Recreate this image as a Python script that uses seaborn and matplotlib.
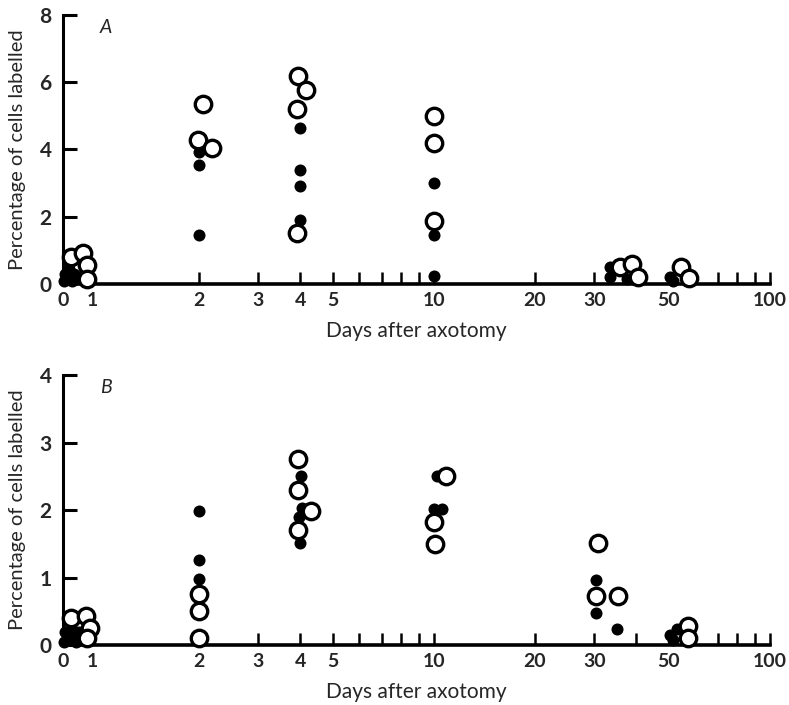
import numpy as np
import pandas as pd
import seaborn as sns
import matplotlib
matplotlib.use("Agg")
import matplotlib.pyplot as plt
from matplotlib.ticker import FixedLocator, NullFormatter

# ---------------- data ----------------
# Panel A
filled_A_days = [0.79, 0.80, 0.82, 0.82, 0.84, 0.85, 0.87,
                 2.0, 2.0, 2.0,
                 4.0, 4.0, 4.0, 4.0,
                 10.0, 10.0, 10.0,
                 33.4, 33.4, 37.5,
                 50.4, 51.5]
filled_A_pct = [0.10, 0.30, 0.20, 0.45, 0.10, 0.30, 0.20,
                3.92, 3.54, 1.47,
                4.65, 3.40, 2.90, 1.90,
                3.00, 1.45, 0.25,
                0.50, 0.20, 0.15,
                0.20, 0.10]
open_A_days = [0.83, 0.90, 0.93, 0.93,
               2.06, 1.98, 2.18,
               3.95, 4.15, 3.90, 3.90,
               10.0, 10.0, 10.0,
               35.8, 38.8, 40.5,
               54.3, 57.5]
open_A_pct = [0.80, 0.93, 0.58, 0.15,
              5.36, 4.28, 4.03,
              6.17, 5.77, 5.20, 1.52,
              5.00, 4.18, 1.88,
              0.50, 0.60, 0.20,
              0.50, 0.18]

# Panel B
filled_B_days = [0.79, 0.80, 0.82, 0.83, 0.85, 0.86, 0.88,
                 2.0, 2.0, 2.0,
                 4.03, 4.05, 3.98, 4.0,
                 10.2, 10.0, 10.6,
                 30.4, 30.4, 35.1,
                 52.8, 51.4, 50.3]
filled_B_pct = [0.05, 0.20, 0.10, 0.30, 0.15, 0.05, 0.20,
                1.99, 1.26, 0.98,
                2.50, 2.03, 1.90, 1.51,
                2.50, 2.02, 2.02,
                0.97, 0.48, 0.24,
                0.24, 0.07, 0.15]
open_B_days = [0.83, 0.92, 0.95, 0.93,
               2.0, 2.0, 2.0,
               3.94, 3.94, 3.94, 4.30,
               10.9, 10.0, 10.1,
               30.8, 30.4, 35.3,
               57.0, 57.0]
open_B_pct = [0.40, 0.43, 0.25, 0.10,
              0.76, 0.50, 0.10,
              2.76, 2.30, 1.70, 1.99,
              2.50, 1.82, 1.50,
              1.51, 0.73, 0.73,
              0.28, 0.10]

x_label_ticks = [0.787, 0.966, 2, 3, 4, 5, 10, 20, 30, 50, 100]
x_label_text = ["0", "1", "2", "3", "4", "5", "10", "20", "30", "50", "100"]
x_minor_ticks = [6, 7, 8, 9, 40, 60, 70, 80, 90]

panels = [
    dict(name="A", fd=filled_A_days, fp=filled_A_pct, od=open_A_days, op=open_A_pct,
         ymax=8, yticks=[0, 2, 4, 6, 8]),
    dict(name="B", fd=filled_B_days, fp=filled_B_pct, od=open_B_days, op=open_B_pct,
         ymax=4, yticks=[0, 1, 2, 3, 4]),
]

# ---------------- style ----------------
sns.set_theme(style="white")
plt.rcParams["font.family"] = ["Lato", "DejaVu Sans"]

fig = plt.figure(figsize=(7.89, 7.05), dpi=100)
rects = [[0.0798, 0.597, 0.896, 0.382], [0.0798, 0.085, 0.896, 0.383]]

for rect, p in zip(rects, panels):
    ax = fig.add_axes(rect)
    dfF = pd.DataFrame({"day": p["fd"], "pct": p["fp"]})
    dfO = pd.DataFrame({"day": p["od"], "pct": p["op"]})
    sns.scatterplot(data=dfF, x="day", y="pct", ax=ax, color="black", s=75,
                    edgecolor="black", linewidth=0, zorder=3, clip_on=False)
    sns.scatterplot(data=dfO, x="day", y="pct", ax=ax, facecolor="white", s=140,
                    edgecolor="black", linewidth=2.4, zorder=4, clip_on=False)
    ax.set_xscale("log")
    ax.set_xlim(0.787, 100)
    ax.set_ylim(0, p["ymax"])
    for s in ["top", "right"]:
        ax.spines[s].set_visible(False)
    ax.spines["bottom"].set_linewidth(2.6)
    ax.spines["left"].set_linewidth(2.2)
    ax.spines["bottom"].set_color("black")
    ax.spines["left"].set_color("black")

    ax.xaxis.set_major_locator(FixedLocator(x_label_ticks))
    ax.set_xticklabels(x_label_text)
    ax.xaxis.set_minor_locator(FixedLocator(x_minor_ticks))
    ax.xaxis.set_minor_formatter(NullFormatter())
    ax.tick_params(axis="x", which="both", bottom=True, direction="in", length=9,
                   width=1.8, color="black", pad=6, labelsize=14)
    for t in ax.xaxis.get_major_ticks()[:2]:
        t.tick1line.set_visible(False)
    for lab in ax.get_xticklabels():
        lab.set_fontweight("bold")

    ax.set_yticks(p["yticks"])
    ax.set_yticklabels([str(v) for v in p["yticks"]])
    ax.tick_params(axis="y", which="major", left=True, direction="in", length=10,
                   width=2.2, color="black", pad=8, labelsize=15)
    for lab in ax.get_yticklabels():
        lab.set_fontweight("bold")

    ax.set_xlabel("Days after axotomy", fontsize=15, labelpad=8)
    ax.set_ylabel("Percentage of cells labelled", fontsize=14.5, labelpad=10)
    ax.text(0.052, 0.985, p["name"], transform=ax.transAxes, fontsize=14,
            fontstyle="italic", va="top", ha="left")
    ax.grid(False)

fig.savefig("out.png", dpi=100)
